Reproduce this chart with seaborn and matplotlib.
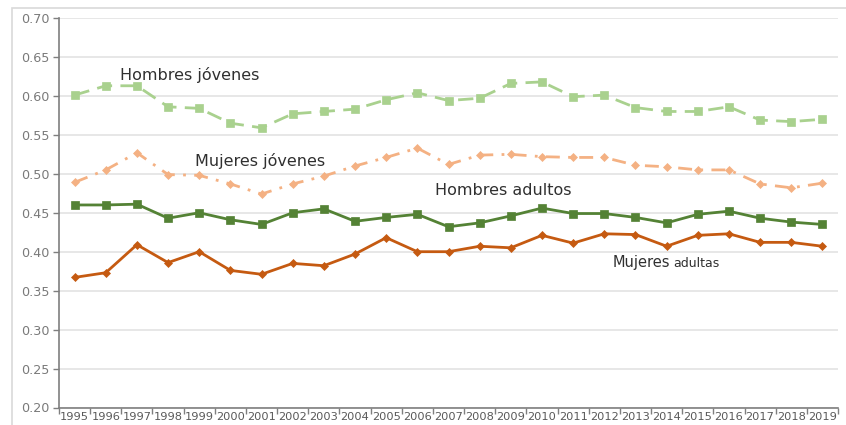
import pandas as pd
import seaborn as sns
import matplotlib.pyplot as plt
from matplotlib.patches import Rectangle

# Data
years = list(range(1995, 2020))
hombres_jovenes = [0.601, 0.613, 0.613, 0.586, 0.584, 0.565, 0.559, 0.577, 0.580, 0.583,
                   0.595, 0.604, 0.594, 0.597, 0.616, 0.618, 0.599, 0.601, 0.585, 0.580,
                   0.580, 0.586, 0.569, 0.567, 0.570]
mujeres_jovenes = [0.489, 0.505, 0.527, 0.499, 0.498, 0.487, 0.474, 0.487, 0.497, 0.510,
                   0.521, 0.533, 0.512, 0.524, 0.525, 0.522, 0.521, 0.521, 0.511, 0.509,
                   0.505, 0.505, 0.487, 0.482, 0.488]
hombres_adultos = [0.460, 0.460, 0.461, 0.443, 0.450, 0.441, 0.435, 0.450, 0.455, 0.439,
                   0.444, 0.448, 0.432, 0.437, 0.446, 0.456, 0.449, 0.449, 0.444, 0.437,
                   0.448, 0.452, 0.443, 0.438, 0.435]
mujeres_adultas = [0.367, 0.373, 0.409, 0.386, 0.400, 0.376, 0.371, 0.385, 0.382, 0.397,
                   0.418, 0.400, 0.400, 0.407, 0.405, 0.421, 0.411, 0.423, 0.422, 0.407,
                   0.421, 0.423, 0.412, 0.412, 0.407]

series = {
    "Hombres jóvenes": hombres_jovenes,
    "Mujeres jóvenes": mujeres_jovenes,
    "Hombres adultos": hombres_adultos,
    "Mujeres adultas": mujeres_adultas,
}

rows = []
for name, vals in series.items():
    for i, (yr, v) in enumerate(zip(years, vals)):
        rows.append({"pos": i, "year": yr, "serie": name, "valor": v})
df = pd.DataFrame(rows)

palette = {"Hombres jóvenes": "#a9d18e", "Mujeres jóvenes": "#f4b183",
           "Hombres adultos": "#548235", "Mujeres adultas": "#c55a11"}
markers = {"Hombres jóvenes": "s", "Mujeres jóvenes": "D",
           "Hombres adultos": "s", "Mujeres adultas": "D"}
dashes = {"Hombres jóvenes": (5.5, 3), "Mujeres jóvenes": (5, 3, 1, 3),
          "Hombres adultos": "", "Mujeres adultas": ""}
msize = {"Hombres jóvenes": 6.2, "Mujeres jóvenes": 4.5,
         "Hombres adultos": 6.2, "Mujeres adultas": 4.5}

sns.set_theme(style="white")
plt.rcParams["font.family"] = ["DejaVu Sans"]

fig = plt.figure(figsize=(8.46, 4.25), dpi=100)
ax = fig.add_axes([59 / 846, 1 - 407.5 / 425, (838 - 59) / 846, (407.5 - 18) / 425])

# light frame around the chart, clipped at right/bottom like the source
fig.patches.append(Rectangle((12 / 846, -0.1), 1.2, 1 - 8 / 425 + 0.1,
                             transform=fig.transFigure, fill=False,
                             edgecolor="#d9d9d9", linewidth=1.2))

sns.lineplot(data=df, x="pos", y="valor", hue="serie", style="serie",
             palette=palette, markers=markers, dashes=dashes,
             linewidth=2, markeredgewidth=0.5, legend=False, ax=ax)
for ln, name in zip(ax.lines, series):
    ln.set_markeredgecolor(ln.get_color())
    ln.set_markersize(msize[name])

ax.set_xlim(-0.5, len(years) - 0.5)
ax.set_ylim(0.20, 0.70)
ax.set_yticks([0.20, 0.25, 0.30, 0.35, 0.40, 0.45, 0.50, 0.55, 0.60, 0.65, 0.70])
ax.set_yticklabels([f"{v:.2f}" for v in ax.get_yticks()])
ax.set_xticks(range(len(years)))
ax.set_xticklabels([str(y) for y in years])
ax.set_xticks([i - 0.5 for i in range(len(years) + 1)], minor=True)
ax.tick_params(axis="x", which="major", length=0, labelsize=8.2,
               labelcolor="#595959", pad=3)
ax.tick_params(axis="x", which="minor", length=4, color="#7f7f7f", width=1,
               direction="out", bottom=True)
ax.tick_params(axis="y", length=4, color="#7f7f7f", width=1, direction="out",
               left=True, labelsize=9.2, labelcolor="#7a7a7a", pad=3)
ax.yaxis.grid(True, color="#e3e3e3", linewidth=1.2)
ax.set_axisbelow(True)
ax.set_xlabel("")
ax.set_ylabel("")
for side in ["top", "right"]:
    ax.spines[side].set_visible(False)
for side in ["left", "bottom"]:
    ax.spines[side].set_color("#7f7f7f")
    ax.spines[side].set_linewidth(1.2)

# series labels
lab = dict(fontsize=11.5, color="#303030", va="center")
ax.text(1.46, 0.627, "Hombres jóvenes", **lab)
ax.text(3.86, 0.516, "Mujeres jóvenes", **lab)
ax.text(11.57, 0.478, "Hombres adultos", **lab)
t1 = ax.text(17.28, 0.381, "Mujeres", fontsize=10.5, color="#303030", va="baseline")
ax.annotate("adultas", xy=(1, 0), xycoords=t1, xytext=(2, 0),
            textcoords="offset points", fontsize=9, color="#303030",
            va="bottom")

fig.savefig("out.png", dpi=100)
